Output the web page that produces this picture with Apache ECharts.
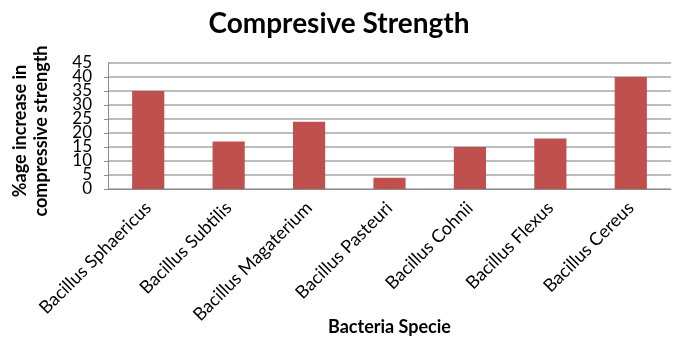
<!DOCTYPE html>
<html>
<head>
<meta charset="utf-8">
<script src="https://cdn.jsdelivr.net/npm/echarts@6/dist/echarts.min.js"></script>
<style>
  html, body { margin: 0; padding: 0; background: #ffffff; }
  #chart { width: 678px; height: 338px; }
</style>
</head>
<body>
<div id="chart"></div>
<script>
// Bacteria species tested
const species = [
  'Bacillus Sphaericus',
  'Bacillus Subtilis',
  'Bacillus Magaterium',
  'Bacillus Pasteuri',
  'Bacillus Cohnii',
  'Bacillus Flexus',
  'Bacillus Cereus'
];
// % increase in compressive strength per species
const strengthGain = [35, 17, 24, 4, 15, 18, 40];
// Value axis range
const yMin = 0;
const yMax = 45;
const yStep = 5;

const chart = echarts.init(document.getElementById('chart'));
const font = 'Lato, Carlito, "Open Sans", sans-serif';

const tickLabelStyle = {
  fontFamily: font,
  fontSize: 17,
  lineHeight: 12,
  color: '#000',
  margin: 16,
  hideOverlap: false
};

// The tick labels sit closer together than their glyph height, so the
// labels are split over two stacked value axes (odd / even multiples of 5)
// to keep every one of them visible.
const valueAxisBase = {
  type: 'value',
  min: yMin,
  max: yMax,
  interval: yStep,
  position: 'left'
};

chart.setOption({
  animation: false,
  title: {
    text: 'Compresive Strength',
    left: 'center',
    top: 5,
    textStyle: { fontFamily: font, fontSize: 28, fontWeight: 'bold', color: '#000' }
  },
  grid: { left: 108, right: 7, top: 63, bottom: 149, containLabel: false, outerBoundsMode: 'none' },
  xAxis: {
    type: 'category',
    data: species,
    name: 'Bacteria Specie',
    nameLocation: 'middle',
    nameGap: 129,
    nameMoveOverlap: false,
    nameTextStyle: { fontFamily: font, fontSize: 18, fontWeight: 'bold', color: '#000' },
    axisLine: { lineStyle: { color: '#8c8c8c', width: 1 } },
    axisTick: { show: false },
    axisLabel: {
      rotate: 45,
      interval: 0,
      margin: 16,
      fontFamily: font,
      fontSize: 18,
      color: '#000'
    }
  },
  yAxis: [
    Object.assign({}, valueAxisBase, {
      name: '%age increase in\ncompressive strength',
      nameLocation: 'middle',
      nameGap: 56,
      nameRotate: 90,
      nameMoveOverlap: false,
      nameTextStyle: {
        fontFamily: font, fontSize: 18, fontWeight: 'bold', color: '#000',
        lineHeight: 21, padding: [0, 10, 0, 0]
      },
      axisLine: { show: true, lineStyle: { color: '#8c8c8c', width: 1 } },
      axisTick: { show: true, length: 4, lineStyle: { color: '#8c8c8c' } },
      axisLabel: Object.assign({}, tickLabelStyle, {
        showMinLabel: true,
        showMaxLabel: false,
        formatter: v => (v % 10 === 0 ? String(v) : '')
      }),
      splitLine: { lineStyle: { color: '#a6a6a6', width: 1.5 } }
    }),
    Object.assign({}, valueAxisBase, {
      axisLine: { show: false },
      axisTick: { show: false },
      splitLine: { show: false },
      axisLabel: Object.assign({}, tickLabelStyle, {
        showMinLabel: false,
        showMaxLabel: true,
        formatter: v => (v % 10 === 5 ? String(v) : '')
      })
    })
  ],
  series: [{
    type: 'bar',
    data: strengthGain,
    yAxisIndex: 0,
    barWidth: '40%',
    itemStyle: { color: '#c0504d' }
  }]
});
</script>
</body>
</html>
